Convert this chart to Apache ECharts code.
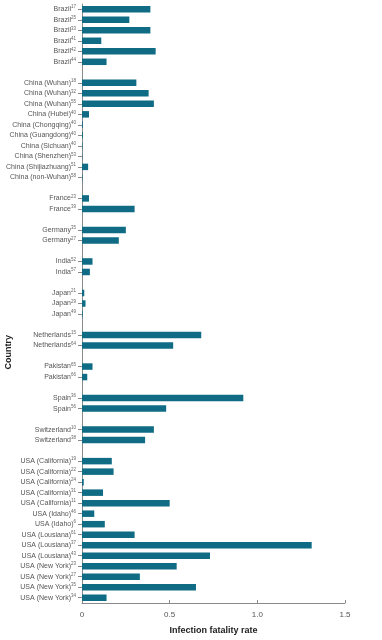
<!DOCTYPE html>
<html><head><meta charset="utf-8">
<script src="https://cdn.jsdelivr.net/npm/echarts@6/dist/echarts.min.js"></script>
<style>html,body{margin:0;padding:0;background:#fff}#c{width:382px;height:640px}</style>
</head><body><div id="c"></div>
<script>
const countries = [
 'Brazil','Brazil','Brazil','Brazil','Brazil','Brazil','',
 'China (Wuhan)','China (Wuhan)','China (Wuhan)','China (Hubei)','China (Chongqing)','China (Guangdong)','China (Sichuan)','China (Shenzhen)','China (Shijiazhuang)','China (non-Wuhan)','',
 'France','France','',
 'Germany','Germany','',
 'India','India','',
 'Japan','Japan','Japan','',
 'Netherlands','Netherlands','',
 'Pakistan','Pakistan','',
 'Spain','Spain','',
 'Switzerland','Switzerland','',
 'USA (California)','USA (California)','USA (California)','USA (California)','USA (California)','USA (Idaho)','USA (Idaho)','USA (Lousiana)','USA (Lousiana)','USA (Lousiana)','USA (New York)','USA (New York)','USA (New York)','USA (New York)'
];
const refs = [
 '17','25','33','41','42','44','',
 '18','32','55','40','40','40','40','53','51','58','',
 '23','39','',
 '35','27','',
 '52','57','',
 '21','29','49','',
 '15','64','',
 '65','66','',
 '36','56','',
 '10','38','',
 '19','22','24','31','11','46','6','61','37','43','23','27','35','34'
];
const ifr = [
 0.39,0.27,0.39,0.11,0.42,0.14,'-',
 0.31,0.38,0.41,0.04,0.005,0.005,0.003,0.002,0.035,0.003,'-',
 0.04,0.30,'-',
 0.25,0.21,'-',
 0.06,0.045,'-',
 0.013,0.02,0.004,'-',
 0.68,0.52,'-',
 0.06,0.03,'-',
 0.92,0.48,'-',
 0.41,0.36,'-',
 0.17,0.18,0.01,0.12,0.50,0.07,0.13,0.30,1.31,0.73,0.54,0.33,0.65,0.14
];
const xTicks = ['0','0.5','1.0','1.5'];

const chart = echarts.init(document.getElementById('c'), null, {renderer:'canvas'});
const font = '"Liberation Sans",Arial,sans-serif';
chart.setOption({
  animation:false,
  grid:{left:82,right:37,top:4,bottom:36},
  xAxis:{
    type:'value',min:0,max:1.5,interval:0.5,
    axisLine:{show:true,lineStyle:{color:'#8a8a8a',width:1}},
    axisTick:{show:true,inside:true,length:3,lineStyle:{color:'#8a8a8a'}},
    splitLine:{show:false},
    axisLabel:{color:'#555',fontFamily:font,fontSize:8,margin:8,
      formatter:(v)=>xTicks[Math.round(v/0.5)]},
    name:'Infection fatality rate',nameLocation:'middle',nameGap:23,
    nameTextStyle:{color:'#222',fontFamily:font,fontSize:9,fontWeight:'bold'}
  },
  yAxis:{
    type:'category',inverse:true,
    data:countries.map((c,i)=>String(i)),
    axisLine:{show:true,lineStyle:{color:'#8a8a8a',width:1}},
    axisTick:{show:true,length:4,alignWithLabel:true,lineStyle:{color:'#8a8a8a'},
      interval:(idx)=>countries[idx]!==''},
    axisLabel:{interval:0,color:'#555',fontFamily:font,fontSize:7,margin:6,
      formatter:(v)=>{const i=+v;return countries[i]?countries[i]+'{s|'+refs[i]+'}':'';},
      rich:{s:{fontSize:4.5,fontFamily:font,color:'#666',verticalAlign:'top',padding:[0,0,4,0]}}
    }
  },
  graphic:[{type:'text',left:4,top:335,rotation:Math.PI/2,
    style:{text:'Country',fill:'#222',font:'bold 9px '+font}}],
  series:[{type:'bar',data:ifr,barWidth:6.5,itemStyle:{color:'#0f6c84'}}]
});
</script></body></html>
